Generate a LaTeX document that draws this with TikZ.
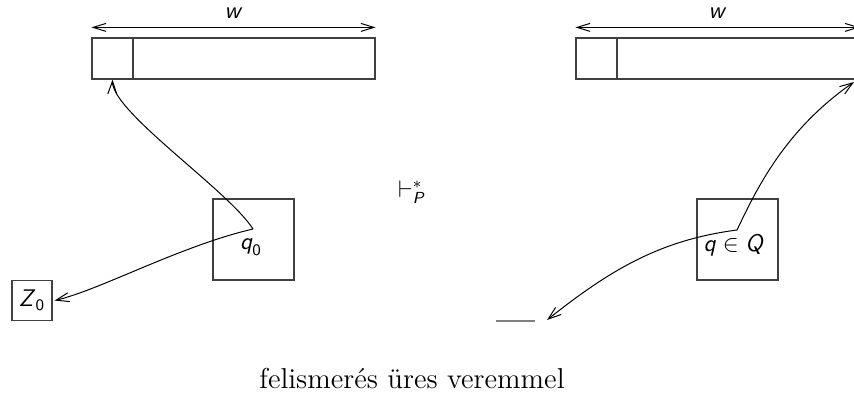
\documentclass[tikz,border=0pt]{standalone}
\usepackage{amsmath}
\usepackage{fontspec}
\usepackage{tikz}
\usetikzlibrary{arrows.meta}
\newcommand{\sv}[1]{\textsf{\textit{#1}}}

\begin{document}
\begin{tikzpicture}[x=0.5pt, y=-0.5pt, font=\sffamily\large,
    doboz/.style={draw=black!75, line width=0.6pt, inner sep=0pt},
    nyil/.style={-{Straight Barb[length=6.5pt, width=4.5pt]}, line width=0.5pt},
    meret/.style={{Straight Barb[length=6.5pt, width=4pt]}-{Straight Barb[length=6.5pt, width=4pt]}, line width=0.5pt}]
    \useasboundingbox (0,0) rectangle (854,399);
    \clip (0,0) rectangle (854,399);
    % bal oldal: szalag
    \node[doboz, minimum width=141.5pt, minimum height=20.5pt] (szalagL) at (233.5,58.5) {};
    \node[doboz, minimum size=20.5pt, anchor=north west] (cellaL) at (szalagL.north west) {};
    \node (wL) at (233.5,13) {\sv{w}};
    \draw[meret] ([yshift=5pt]szalagL.north west) -- ([yshift=5pt]szalagL.north east);
    % bal oldal: allapot es verem
    \node[doboz, minimum size=40.5pt] (allL) at (253.5,239.5) {};
    \node (q0) at (251,247) {$\sv{q}_{\textsf{0}}$};
    \coordinate (fejL) at (253,229);
    \node[doboz, minimum size=20pt] (Z0) at (32,300.5) {$\sv{Z}_{\textsf{0}}$};
    \draw[nyil] (fejL) .. controls (228,190) and (112,112) .. (cellaL.south);
    \draw[nyil] (fejL) .. controls (180,246) and (100,290) .. ([xshift=1pt]Z0.east);
    % atmenet
    \node (lep) at (412,192) {$\vdash^{*}_{\sv{P}}$};
    % jobb oldal: szalag
    \node[doboz, minimum width=141.5pt, minimum height=20.5pt] (szalagR) at (717.5,58.5) {};
    \node[doboz, minimum size=20.5pt, anchor=north west] (cellaR) at (szalagR.north west) {};
    \node (wR) at (717.5,13) {\sv{w}};
    \draw[meret] ([yshift=5pt]szalagR.north west) -- ([yshift=5pt]szalagR.north east);
    % jobb oldal: allapot es ures verem
    \node[doboz, minimum size=40.5pt] (allR) at (737.5,239.5) {};
    \node (qQ) at (734,245) {$\sv{q} \in \sv{Q}$};
    \coordinate (fejR) at (737,230);
    \coordinate (vegR) at (854,82);
    \coordinate (uresA) at (496,321);
    \coordinate (uresB) at (535,321);
    \coordinate (vegU) at (547,320);
    \draw[black!50, line width=1pt] (uresA) -- (uresB);
    \draw[nyil] (fejR) .. controls (757,188) and (785,130) .. (vegR);
    \draw[nyil] (fejR) .. controls (660,240) and (610,270) .. (vegU);
    % felirat
    \node[font=\rmfamily\Large] (cim) at (412,379) {felismerés üres veremmel};
\end{tikzpicture}
\end{document}
